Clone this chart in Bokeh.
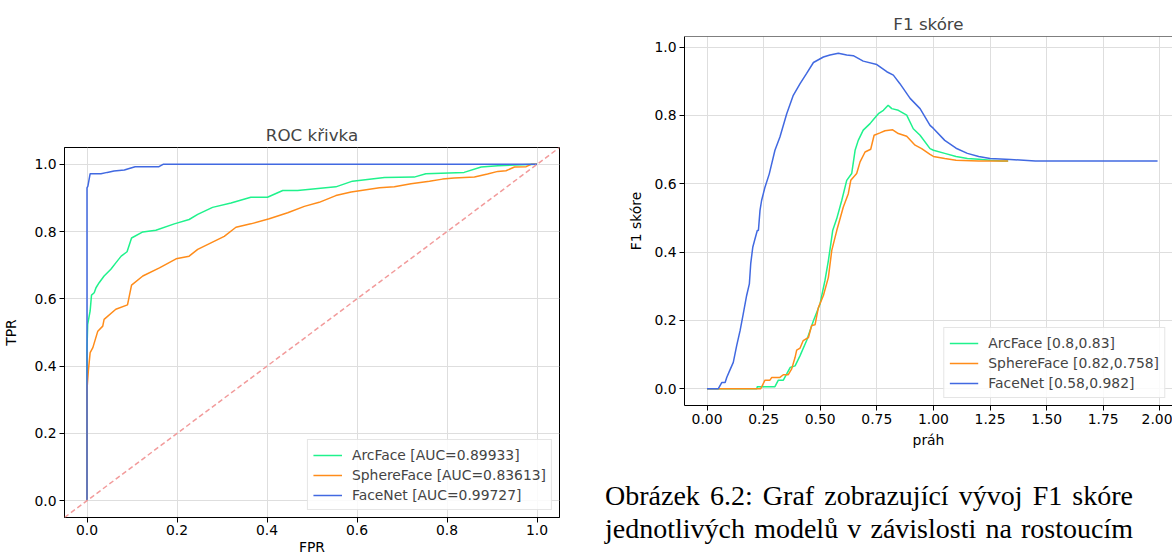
from bokeh.plotting import figure
from bokeh.models import (Range1d, FixedTicker, NumeralTickFormatter, Span, Div, Slope)
from bokeh.layouts import row, column
from bokeh.embed import file_html
from bokeh.resources import INLINE

# ---------------- data ----------------
models = ["ArcFace", "SphereFace", "FaceNet"]
colors = ["#1ff28c", "#ff8c1a", "#4169e1"]
auc = ["0.89933", "0.83613", "0.99727"]
best = ["[0.8,0.83]", "[0.82,0.758]", "[0.58,0.982]"]

arc_fpr = [0, 0, 0.0015, 0.007, 0.01, 0.016, 0.02, 0.027, 0.038, 0.053, 0.064, 0.076,
           0.089, 0.099, 0.124, 0.153, 0.194, 0.227, 0.246, 0.279, 0.32, 0.364, 0.401,
           0.435, 0.468, 0.553, 0.59, 0.661, 0.727, 0.753, 0.838, 0.876, 0.913, 1.0]
arc_tpr = [0, 0.45, 0.524, 0.564, 0.611, 0.618, 0.633, 0.648, 0.668, 0.688, 0.707, 0.727,
           0.740, 0.781, 0.799, 0.804, 0.823, 0.836, 0.851, 0.872, 0.885, 0.902, 0.902,
           0.922, 0.922, 0.933, 0.95, 0.961, 0.962, 0.972, 0.976, 0.992, 0.996, 1.0]

sph_fpr = [0, 0, 0.003, 0.007, 0.013, 0.024, 0.035, 0.038, 0.064, 0.09, 0.099, 0.124,
           0.161, 0.198, 0.227, 0.246, 0.305, 0.331, 0.364, 0.405, 0.446, 0.483, 0.516,
           0.553, 0.587, 0.65, 0.683, 0.72, 0.761, 0.79, 0.816, 0.861, 0.89, 0.913,
           0.931, 0.95, 0.976, 0.987, 1.0]
sph_tpr = [0, 0.331, 0.386, 0.44, 0.455, 0.504, 0.519, 0.539, 0.569, 0.582, 0.641, 0.668,
           0.692, 0.719, 0.727, 0.747, 0.786, 0.813, 0.823, 0.838, 0.856, 0.875, 0.887,
           0.907, 0.918, 0.930, 0.933, 0.942, 0.950, 0.956, 0.959, 0.962, 0.971, 0.979,
           0.981, 0.992, 0.993, 1.0, 1.0]

fn_fpr = [0, 0, 0.002, 0.004, 0.007, 0.031, 0.045, 0.06, 0.083, 0.092, 0.107, 0.16, 0.169, 1.0]
fn_tpr = [0, 0.93, 0.935, 0.95, 0.972, 0.972, 0.976, 0.98, 0.983, 0.987, 0.993, 0.993, 1.0, 1.0]

arc_t = [0.00, 0.22, 0.222, 0.30, 0.315, 0.337, 0.367, 0.389, 0.411, 0.44, 0.47, 0.499,
         0.521, 0.536, 0.551, 0.555, 0.573, 0.595, 0.617, 0.639, 0.654, 0.668, 0.69, 0.72,
         0.735, 0.757, 0.779, 0.80, 0.816, 0.845, 0.882, 0.911, 0.941, 0.985, 1.0, 1.05,
         1.1, 1.15, 1.2, 1.25, 1.3, 1.33]
arc_f1 = [0.0, 0.0, 0.006, 0.006, 0.025, 0.025, 0.062, 0.067, 0.097, 0.141, 0.199, 0.248,
          0.317, 0.375, 0.444, 0.463, 0.498, 0.551, 0.610, 0.630, 0.698, 0.727, 0.757,
          0.776, 0.788, 0.805, 0.815, 0.830, 0.820, 0.815, 0.801, 0.761, 0.742, 0.703,
          0.698, 0.689, 0.680, 0.674, 0.672, 0.669, 0.667, 0.667]

sph_t = [0.00, 0.237, 0.256, 0.278, 0.286, 0.322, 0.337, 0.359, 0.374, 0.389, 0.396,
         0.411, 0.425, 0.448, 0.462, 0.477, 0.492, 0.514, 0.536, 0.551, 0.573, 0.602,
         0.624, 0.635, 0.661, 0.676, 0.698, 0.723, 0.738, 0.764, 0.786, 0.82, 0.845,
         0.882, 0.919, 0.948, 0.985, 1.0, 1.05, 1.1, 1.2, 1.33]
sph_f1 = [0.0, 0.0, 0.025, 0.025, 0.033, 0.033, 0.041, 0.041, 0.058, 0.092, 0.113, 0.119,
          0.141, 0.150, 0.185, 0.187, 0.238, 0.273, 0.326, 0.405, 0.463, 0.532, 0.571,
          0.610, 0.630, 0.664, 0.693, 0.701, 0.742, 0.749, 0.755, 0.758, 0.747, 0.739,
          0.713, 0.703, 0.686, 0.680, 0.674, 0.669, 0.667, 0.667]

fn_t = [0, 0.05, 0.065, 0.08, 0.087, 0.10, 0.116, 0.131, 0.146, 0.160, 0.175, 0.187,
        0.193, 0.202, 0.212, 0.222, 0.227, 0.234, 0.241, 0.256, 0.275, 0.30, 0.322,
        0.352, 0.381, 0.411, 0.44, 0.47, 0.514, 0.543, 0.58, 0.617, 0.646, 0.69, 0.75,
        0.794, 0.823, 0.852, 0.897, 0.941, 0.985, 1.0, 1.05, 1.1, 1.15, 1.2, 1.25, 1.34,
        1.45, 1.99]
fn_f1 = [0, 0, 0.018, 0.018, 0.033, 0.053, 0.077, 0.126, 0.170, 0.219, 0.273, 0.307,
         0.366, 0.414, 0.439, 0.463, 0.463, 0.522, 0.551, 0.590, 0.629, 0.698, 0.737,
         0.805, 0.859, 0.893, 0.923, 0.955, 0.971, 0.977, 0.982, 0.977, 0.975, 0.959,
         0.949, 0.928, 0.918, 0.893, 0.850, 0.820, 0.771, 0.762, 0.727, 0.704, 0.689,
         0.680, 0.674, 0.671, 0.667, 0.667]

roc_ticks = [0.0, 0.2, 0.4, 0.6, 0.8, 1.0]
f1_xticks = [0.0, 0.25, 0.5, 0.75, 1.0, 1.25, 1.5, 1.75, 2.0]
f1_yticks = [0.0, 0.2, 0.4, 0.6, 0.8, 1.0]

caption_lines = ["Obrázek 6.2: Graf zobrazující vývoj F1 skóre",
                 "jednotlivých modelů v závislosti na rostoucím"]

FONT = "DejaVu Sans"
TICK = "13.9px"


def style(p, xticks, yticks, xfmt, yfmt):
    p.title.text_font = FONT
    p.title.text_font_size = "16.7px"
    p.title.text_font_style = "normal"
    p.title.align = "center"
    p.title.standoff = 5
    for ax, ticks, fmt in ((p.xaxis[0], xticks, xfmt), (p.yaxis[0], yticks, yfmt)):
        ax.ticker = FixedTicker(ticks=ticks)
        ax.formatter = NumeralTickFormatter(format=fmt)
        ax.axis_line_color = "black"
        ax.major_tick_line_color = "black"
        ax.major_tick_out = 5
        ax.major_tick_in = 0
        ax.minor_tick_line_color = None
        ax.major_label_text_font = FONT
        ax.major_label_text_font_size = TICK
        ax.major_label_text_color = "black"
        ax.major_label_standoff = 3
        ax.axis_label_text_font = FONT
        ax.axis_label_text_font_size = TICK
        ax.axis_label_text_font_style = "normal"
        ax.axis_label_text_color = "black"
    p.xgrid.grid_line_color = "#dedede"
    p.ygrid.grid_line_color = "#dedede"
    p.background_fill_color = "white"
    p.border_fill_color = "white"


def style_legend(p):
    lg = p.legend[0]
    lg.location = "bottom_right"
    lg.label_text_font = FONT
    lg.label_text_font_size = TICK
    lg.glyph_width = 29
    lg.glyph_height = 14
    lg.label_standoff = 10
    lg.label_height = 19
    lg.spacing = 1
    lg.padding = 5
    lg.margin = 7
    lg.border_line_color = "#cccccc"
    lg.background_fill_alpha = 0.85


# ---------------- ROC ----------------
roc = figure(width=600, height=557, output_backend="svg", toolbar_location=None,
             title="ROC křivka", x_range=Range1d(-0.05, 1.05), y_range=Range1d(-0.05, 1.05),
             min_border_left=63, min_border_right=41, min_border_top=147, min_border_bottom=40)
style(roc, roc_ticks, roc_ticks, "0.0", "0.0")
roc.yaxis.axis_label = "TPR"
roc.yaxis.axis_label_standoff = 12
roc.xaxis.axis_label = "FPR"
roc.xaxis.axis_label_standoff = 1
roc.xaxis.major_label_standoff = 2
roc.outline_line_color = "black"
roc.outline_line_alpha = 1
roc.outline_line_width = 1

roc.add_layout(Slope(gradient=1, y_intercept=0, line_color="#f29b9b", line_width=1.5,
                     line_dash="5 3"))
roc_data = [(arc_fpr, arc_tpr), (sph_fpr, sph_tpr), (fn_fpr, fn_tpr)]
for (fx, ty), name, col, a in zip(roc_data, models, colors, auc):
    roc.line(fx, ty, line_color=col, line_width=1.5, legend_label=f"{name} [AUC={a}]")
style_legend(roc)

# ---------------- F1 ----------------
f1 = figure(width=572, height=460, output_backend="svg", toolbar_location=None,
            title="F1 skóre", x_range=Range1d(-0.0995, 2.056), y_range=Range1d(-0.0491, 1.0311),
            min_border_left=84, min_border_right=0, min_border_top=36, min_border_bottom=55)
style(f1, f1_xticks, f1_yticks, "0.00", "0.0")
f1.outline_line_color = None
f1.xaxis.axis_label = "práh"
f1.xaxis.axis_label_standoff = 5
f1.yaxis.axis_label = "F1 skóre"
f1.yaxis.axis_label_standoff = 7
f1.add_layout(Span(location=1.0311, dimension="width", line_color="black", line_width=1))

f1_data = [(arc_t, arc_f1), (sph_t, sph_f1), (fn_t, fn_f1)]
for (tx, fy), name, col, b in zip(f1_data, models, colors, best):
    f1.line(tx, fy, line_color=col, line_width=1.5, legend_label=f"{name} {b}")
style_legend(f1)

caption = Div(
    text=("<div style=\"font-family:'Liberation Serif',serif;font-size:28px;"
          "line-height:33px;color:#000;width:528px;margin-left:0px;padding-top:14px;"
          "text-align:justify;text-align-last:justify;\">"
          + caption_lines[0] + " " + caption_lines[1] + "</div>"),
    width=572, height=97)

layout = row(roc, column(f1, caption, spacing=0), spacing=0)

open("out.html", "w").write(file_html(layout, INLINE))
